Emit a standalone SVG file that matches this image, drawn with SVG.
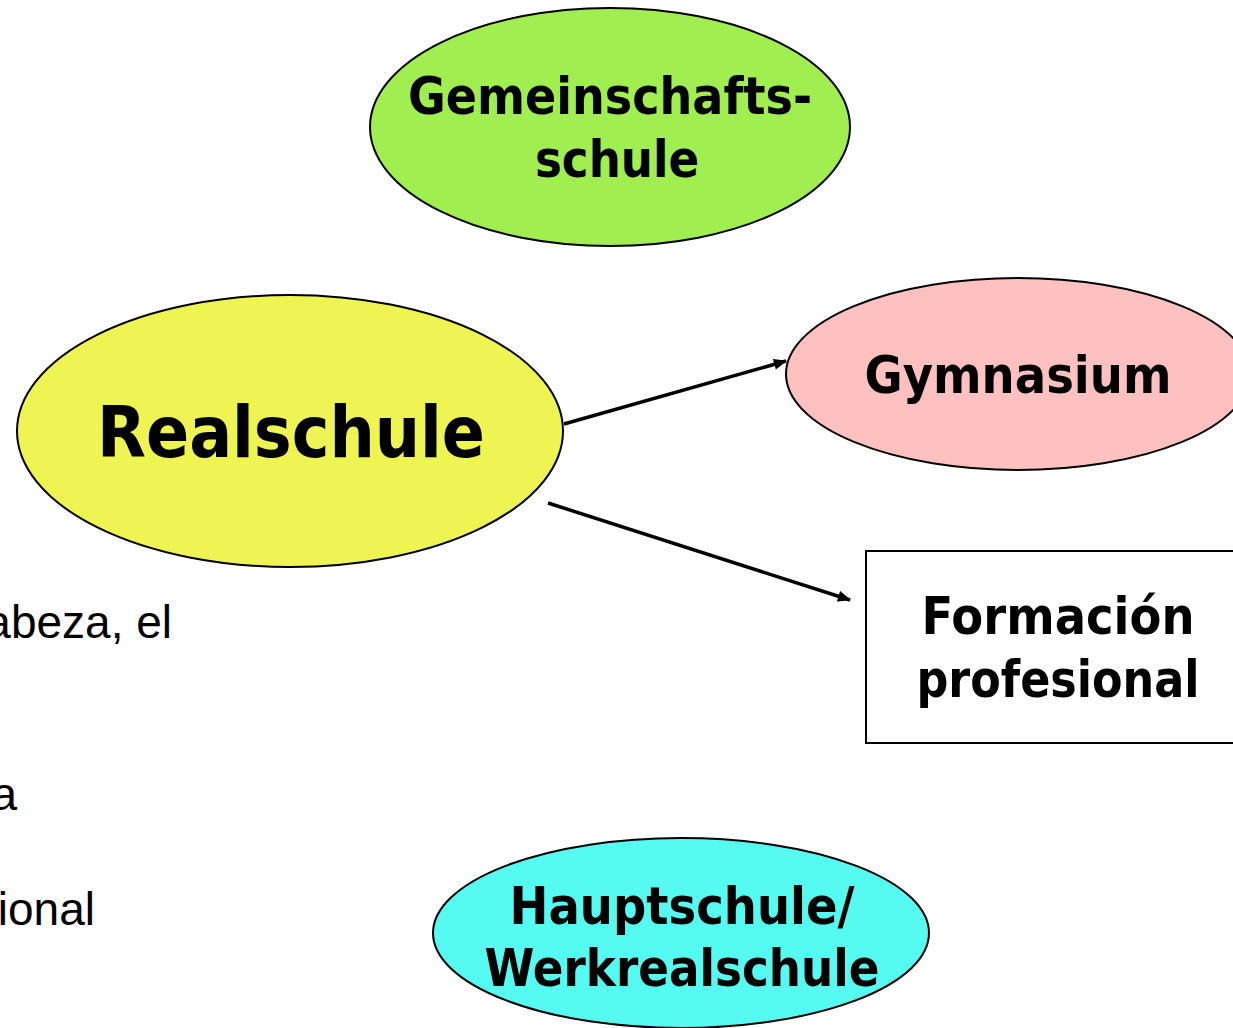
<svg xmlns="http://www.w3.org/2000/svg" width="1233" height="1028" viewBox="0 0 1233 1028">
<defs>
<style>
.node{stroke:#000;stroke-width:2}
.lbl{font-family:"DejaVu Sans","Liberation Sans",sans-serif;font-weight:bold;fill:#000;text-anchor:middle}
.side{font-family:"Liberation Sans",Arial,sans-serif;font-size:46px;fill:#000;text-anchor:end}
.conn{stroke:#000;stroke-width:3.5;fill:none;marker-end:url(#ah)}
</style>
<marker id="ah" viewBox="0 0 12 10" refX="11" refY="5" markerUnits="userSpaceOnUse" markerWidth="14" markerHeight="11" orient="auto">
<path d="M0,0 L12,5 L0,10 Z" fill="#000"/>
</marker>
</defs>
<rect width="1233" height="1028" fill="#fff"/>
<g id="side-text">
<text class="side" x="172" y="638">abeza, el</text>
<text class="side" x="17" y="810">a</text>
<text class="side" x="95" y="925">ional</text>
</g>
<g id="connectors">
<line class="conn" x1="564" y1="424" x2="786" y2="361"/>
<line class="conn" x1="548" y1="503" x2="850" y2="600"/>
</g>
<g id="gemeinschaftsschule">
<ellipse class="node" cx="610" cy="127" rx="240" ry="119" fill="#A0EE50"/>
<text class="lbl" x="610" y="114" font-size="51" textLength="404" lengthAdjust="spacingAndGlyphs">Gemeinschafts-</text>
<text class="lbl" x="617" y="177" font-size="51" textLength="164" lengthAdjust="spacingAndGlyphs">schule</text>
</g>
<g id="realschule">
<ellipse class="node" cx="290" cy="431" rx="273" ry="136" fill="#EEF552"/>
<text class="lbl" x="291" y="457" font-size="71" textLength="388" lengthAdjust="spacingAndGlyphs">Realschule</text>
</g>
<g id="gymnasium">
<ellipse class="node" cx="1018" cy="374" rx="232" ry="96" fill="#FFC0C0"/>
<text class="lbl" x="1018" y="393" font-size="52" textLength="307" lengthAdjust="spacingAndGlyphs">Gymnasium</text>
</g>
<g id="formacion">
<rect class="node" x="866" y="551" width="380" height="192" fill="#fff"/>
<text class="lbl" x="1058" y="634" font-size="52" textLength="273" lengthAdjust="spacingAndGlyphs">Formación</text>
<text class="lbl" x="1058" y="697" font-size="52" textLength="283" lengthAdjust="spacingAndGlyphs">profesional</text>
</g>
<g id="hauptschule">
<ellipse class="node" cx="681" cy="933" rx="248" ry="95" fill="#55FAF0"/>
<text class="lbl" x="682" y="924" font-size="52" textLength="345" lengthAdjust="spacingAndGlyphs">Hauptschule/</text>
<text class="lbl" x="682" y="986" font-size="52" textLength="395" lengthAdjust="spacingAndGlyphs">Werkrealschule</text>
</g>
</svg>
